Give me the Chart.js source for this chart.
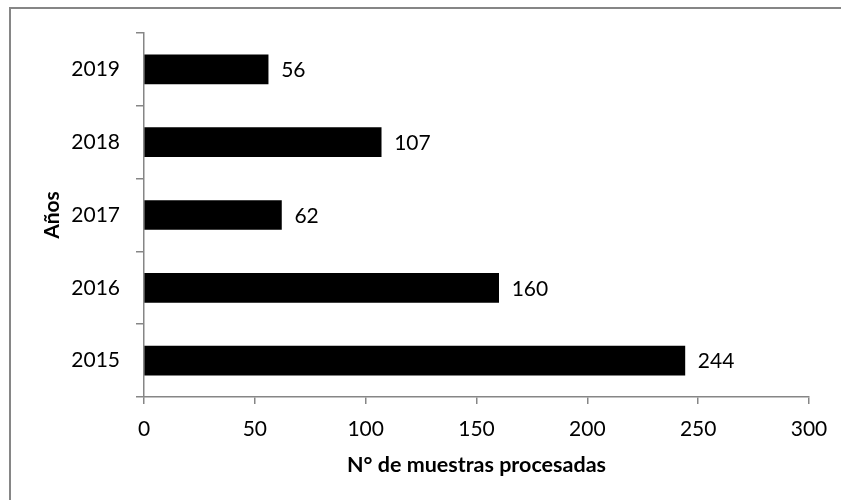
<!DOCTYPE html>
<html>
<head>
<meta charset="utf-8">
<script src="https://cdn.jsdelivr.net/npm/chart.js@4/dist/chart.umd.min.js"></script>
<style>
html,body{margin:0;padding:0;background:#fff;}
canvas{display:block;}
</style>
</head>
<body>
<canvas id="c" width="841" height="500"></canvas>
<script>
const categories = ["2019", "2018", "2017", "2016", "2015"];
const values = [56, 107, 62, 160, 244];
const xTicks = [0, 50, 100, 150, 200, 250, 300];
const xTitle = "N° de muestras procesadas";
const yTitle = "Años";

const FONT = "Lato, 'Open Sans', sans-serif";
const GRAY = "#868686";

const frame = {
  id: "frame",
  beforeDraw(chart) {
    const ctx = chart.ctx;
    ctx.save();
    ctx.fillStyle = "#fff";
    ctx.fillRect(0, 0, chart.width, chart.height);
    ctx.strokeStyle = GRAY;
    ctx.lineWidth = 2;
    ctx.strokeRect(10, 8, 1000, 1000);
    ctx.restore();
  }
};

const valueLabels = {
  id: "valueLabels",
  afterDatasetsDraw(chart) {
    const ctx = chart.ctx;
    const meta = chart.getDatasetMeta(0);
    ctx.save();
    ctx.font = "21px " + FONT;
    ctx.fillStyle = "#000";
    ctx.textAlign = "left";
    ctx.textBaseline = "middle";
    meta.data.forEach((bar, i) => {
      ctx.fillText(String(values[i]), bar.x + 13, bar.y + 1);
    });
    ctx.restore();
  }
};

new Chart(document.getElementById("c"), {
  type: "bar",
  data: {
    labels: categories,
    datasets: [{
      data: values,
      backgroundColor: "#000",
      borderWidth: 0,
      barThickness: 29
    }]
  },
  options: {
    indexAxis: "y",
    responsive: false,
    devicePixelRatio: 1,
    animation: false,
    layout: { padding: { top: 33, right: 32, left: 0, bottom: 0 } },
    plugins: { legend: { display: false }, tooltip: { enabled: false } },
    scales: {
      x: {
        type: "linear",
        min: 0,
        max: 300,
        afterBuildTicks(scale) { scale.ticks = xTicks.map(v => ({ value: v })); },
        afterFit(scale) { scale.height = 103; },
        grid: { drawOnChartArea: false, drawTicks: true, tickLength: 7, color: GRAY, lineWidth: 1.5 },
        border: { display: true, color: GRAY, width: 1.5 },
        ticks: { color: "#000", font: { family: FONT, size: 21 }, padding: 13, maxRotation: 0 },
        title: {
          display: true,
          text: xTitle,
          color: "#000",
          font: { family: FONT, size: 21.5, weight: "bold" },
          padding: { top: 4, bottom: 22 }
        }
      },
      y: {
        type: "category",
        afterFit(scale) { scale.width = 144; },
        grid: { drawOnChartArea: false, drawTicks: true, tickLength: 8, color: GRAY, lineWidth: 1.5, offset: true },
        border: { display: true, color: GRAY, width: 1.5 },
        ticks: { color: "#000", font: { family: FONT, size: 21 }, padding: 16 },
        title: {
          display: true,
          text: yTitle,
          color: "#000",
          font: { family: FONT, size: 21, weight: "bold" },
          padding: { top: 40, bottom: 0 }
        }
      }
    }
  },
  plugins: [frame, valueLabels]
});
</script>
</body>
</html>
